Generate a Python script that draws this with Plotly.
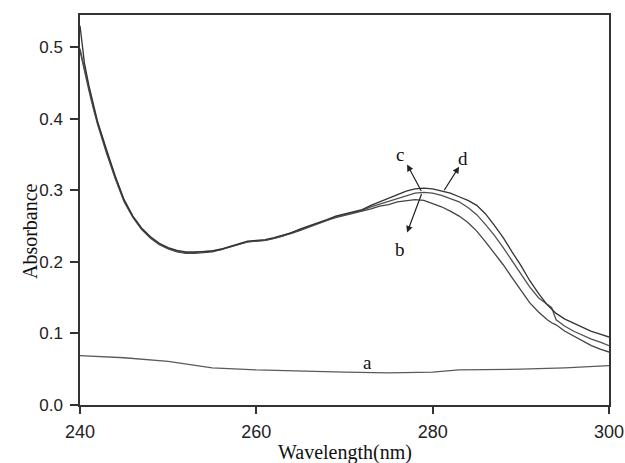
import plotly.graph_objects as go

# ---------------- data ----------------
wavelength = [240, 240.5, 241, 241.5, 242, 243, 244, 245, 246, 247, 248, 249, 250,
              251, 252, 253, 254, 255, 256, 257, 258, 259, 260, 261, 262, 263, 264,
              265, 266, 267, 268, 269, 270, 271, 272, 273, 274, 275, 276, 277, 278,
              279, 280, 281, 282, 283, 284, 285, 286, 287, 288, 289, 290, 291, 292,
              293, 293.5, 294, 295, 296, 297, 298, 299, 300]

abs_b = [0.495, 0.466, 0.440, 0.415, 0.392, 0.352, 0.316, 0.284, 0.262, 0.245, 0.233,
         0.224, 0.218, 0.214, 0.212, 0.212, 0.213, 0.214, 0.217, 0.221, 0.225, 0.228,
         0.229, 0.230, 0.233, 0.236, 0.240, 0.244, 0.249, 0.253, 0.258, 0.262, 0.265,
         0.267, 0.270, 0.274, 0.278, 0.280, 0.284, 0.286, 0.287, 0.286, 0.282, 0.277,
         0.271, 0.264, 0.255, 0.243, 0.228, 0.212, 0.196, 0.178, 0.160, 0.143, 0.130,
         0.119, 0.115, 0.112, 0.103, 0.096, 0.089, 0.083, 0.078, 0.074]

abs_c = [0.498, 0.470, 0.443, 0.417, 0.394, 0.355, 0.318, 0.286, 0.263, 0.246, 0.234,
         0.225, 0.219, 0.215, 0.213, 0.213, 0.214, 0.215, 0.217, 0.221, 0.225, 0.228,
         0.229, 0.230, 0.233, 0.236, 0.241, 0.245, 0.250, 0.254, 0.258, 0.263, 0.266,
         0.268, 0.272, 0.277, 0.281, 0.284, 0.289, 0.293, 0.296, 0.297, 0.296, 0.293,
         0.289, 0.284, 0.276, 0.266, 0.252, 0.237, 0.220, 0.202, 0.184, 0.165, 0.150,
         0.140, 0.136, 0.119, 0.110, 0.103, 0.097, 0.092, 0.088, 0.083]

abs_d = [0.530, 0.478, 0.447, 0.420, 0.396, 0.357, 0.320, 0.287, 0.264, 0.247, 0.235,
         0.226, 0.220, 0.216, 0.214, 0.214, 0.215, 0.215, 0.218, 0.222, 0.226, 0.229,
         0.230, 0.231, 0.234, 0.237, 0.241, 0.246, 0.250, 0.255, 0.259, 0.264, 0.267,
         0.269, 0.273, 0.279, 0.284, 0.288, 0.294, 0.299, 0.302, 0.303, 0.302, 0.299,
         0.296, 0.291, 0.286, 0.279, 0.267, 0.251, 0.234, 0.214, 0.195, 0.174, 0.156,
         0.140, 0.134, 0.128, 0.120, 0.114, 0.108, 0.103, 0.099, 0.095]

wavelength_a = [240, 245, 250, 255, 260, 265, 270, 275, 280, 283, 285, 290, 295, 300]
abs_a = [0.069, 0.066, 0.061, 0.052, 0.049, 0.047, 0.046, 0.045, 0.046, 0.049,
         0.049, 0.050, 0.052, 0.055]

x_ticks = [240, 260, 280, 300]
y_ticks = [0.0, 0.1, 0.2, 0.3, 0.4, 0.5]

# ---------------- figure ----------------
fig = go.Figure()

fig.add_trace(go.Scatter(x=wavelength_a, y=abs_a, mode="lines",
                         line=dict(color="#5a5a5a", width=1.3), name="a"))
fig.add_trace(go.Scatter(x=wavelength, y=abs_b, mode="lines",
                         line=dict(color="#444444", width=1.3), name="b"))
fig.add_trace(go.Scatter(x=wavelength, y=abs_c, mode="lines",
                         line=dict(color="#505050", width=1.3), name="c"))
fig.add_trace(go.Scatter(x=wavelength, y=abs_d, mode="lines",
                         line=dict(color="#333333", width=1.3), name="d"))

serif = "Liberation Serif, Times New Roman, serif"
sans = "Liberation Sans, Arial, sans-serif"

# curve labels
labels = [("a", 272.6, 0.060), ("b", 276.3, 0.217), ("c", 276.3, 0.350), ("d", 283.4, 0.345)]
for t, lx, ly in labels:
    fig.add_annotation(x=lx, y=ly, text=t, showarrow=False,
                       font=dict(family=serif, size=19, color="#111"))

# arrows (tail on curve, head toward label)
arrows = [((278.8, 0.297), (277.1, 0.336)),
          ((278.8, 0.297), (277.1, 0.241)),
          ((281.2, 0.298), (283.0, 0.333))]
for (tx, ty), (hx, hy) in arrows:
    fig.add_annotation(x=hx, y=hy, ax=tx, ay=ty, xref="x", yref="y",
                       axref="x", ayref="y", text="", showarrow=True,
                       arrowhead=2, arrowsize=1.1, arrowwidth=1.2,
                       arrowcolor="#222", standoff=0, startstandoff=0)

# axis titles as annotations
fig.add_annotation(x=0.5, y=0, xref="paper", yref="paper", yshift=-47,
                   xanchor="center", yanchor="middle",
                   text="Wavelength(nm)", showarrow=False,
                   font=dict(family=serif, size=20, color="#111"))
fig.add_annotation(x=0, y=0.446, xref="paper", yref="paper", xshift=-50,
                   xanchor="center", yanchor="middle",
                   text="Absorbance", textangle=-90, showarrow=False,
                   font=dict(family=serif, size=20, color="#111"))

fig.update_layout(
    width=625, height=463, autosize=False,
    margin=dict(l=80, r=16, t=15, b=58, autoexpand=False),
    paper_bgcolor="white", plot_bgcolor="white",
    showlegend=False,
)
fig.update_xaxes(range=[240, 300], tickvals=x_ticks, ticktext=[str(v) for v in x_ticks],
                 showgrid=False, zeroline=False, showline=True, linecolor="#333",
                 linewidth=1.5, mirror=True, ticks="outside", ticklen=7, tickwidth=1.5,
                 tickcolor="#333", ticklabelstandoff=3, automargin=False,
                 tickfont=dict(family=sans, size=18, color="#222"))
fig.update_yaxes(range=[0, 0.545], tickvals=y_ticks, ticktext=[f"{v:.1f}" for v in y_ticks],
                 showgrid=False, zeroline=False, showline=True, linecolor="#333",
                 linewidth=1.5, mirror=True, ticks="outside", ticklen=8, tickwidth=1.5,
                 tickcolor="#333", ticklabelstandoff=4, automargin=False,
                 tickfont=dict(family=sans, size=17, color="#222"))

fig.write_html("out.html", config={"displayModeBar": False},
               post_script="document.body.style.margin='0';document.body.style.overflow='hidden';")
